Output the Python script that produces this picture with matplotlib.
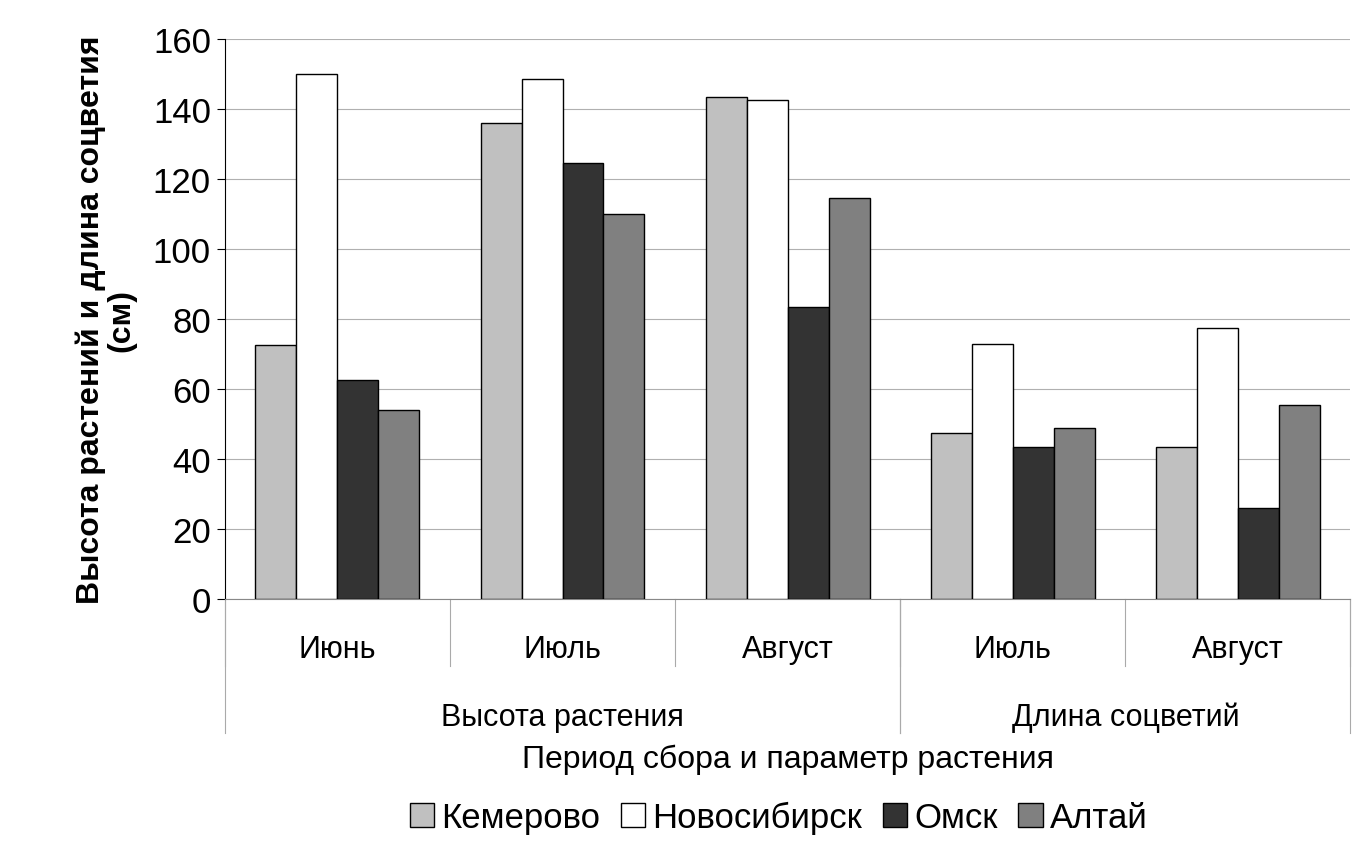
import numpy as np
import matplotlib.pyplot as plt

plt.rcParams['font.family'] = 'Liberation Sans'

months = ["Июнь", "Июль", "Август", "Июль", "Август"]
params = ["Высота растения", "Длина соцветий"]
param_spans = [3, 2]
series = ["Кемерово", "Новосибирск", "Омск", "Алтай"]
kemerovo = [72.5, 136, 143.5, 47.5, 43.5]
novosibirsk = [150, 148.5, 142.5, 73, 77.5]
omsk = [62.5, 124.5, 83.5, 43.5, 26]
altai = [54, 110, 114.5, 49, 55.5]
colors = ["#c0c0c0", "#ffffff", "#333333", "#808080"]

fig = plt.figure(figsize=(13.71, 8.53), dpi=100)
ax = fig.add_axes([0.164, 0.2966, 0.821, 0.6565])

x = np.arange(len(months))
w = 0.182
for i, (vals, c, name) in enumerate(zip([kemerovo, novosibirsk, omsk, altai], colors, series)):
    ax.bar(x + (i - 1.5) * w, vals, w, color=c, edgecolor='black', linewidth=1, label=name, zorder=3)

ax.set_xlim(-0.5, len(months) - 0.5)
ax.set_ylim(0, 160)
ax.set_yticks(range(0, 161, 20))
ax.tick_params(axis='y', labelsize=25, direction='out', length=6, pad=4)
ax.yaxis.grid(True, color='#b0b0b0', linewidth=0.8, zorder=0)
for s in ['top', 'right']:
    ax.spines[s].set_visible(False)
ax.spines['bottom'].set_color('#888888')
ax.set_xticks([])

trans = ax.get_xaxis_transform()
# month labels and separators
for i, m in enumerate(months):
    ax.text(i, -0.09, m, transform=trans, ha='center', va='center', fontsize=22)
for b in np.arange(-0.5, len(months), 1):
    ax.plot([b, b], [0, -0.12], transform=trans, color='#aaaaaa', lw=0.8, clip_on=False)
start = -0.5
for p, span in zip(params, param_spans):
    ax.text(start + span / 2, -0.21, p, transform=trans, ha='center', va='center', fontsize=22)
    for b in (start, start + span):
        ax.plot([b, b], [0, -0.24], transform=trans, color='#aaaaaa', lw=0.8, clip_on=False)
    start += span

ax.text(0.5, -0.285, "Период сбора и параметр растения", transform=ax.transAxes,
        ha='center', va='center', fontsize=23)
ax.set_ylabel("Высота растений и длина соцветия\n(см)", fontsize=23, fontweight='bold',
              linespacing=1.0, labelpad=12)

fig.legend(loc='center', bbox_to_anchor=(0.568, 0.04), ncol=4, frameon=False, fontsize=25,
           handlelength=0.7, handleheight=0.7, handletextpad=0.2, columnspacing=0.6)

fig.savefig('out.png', dpi=100)
